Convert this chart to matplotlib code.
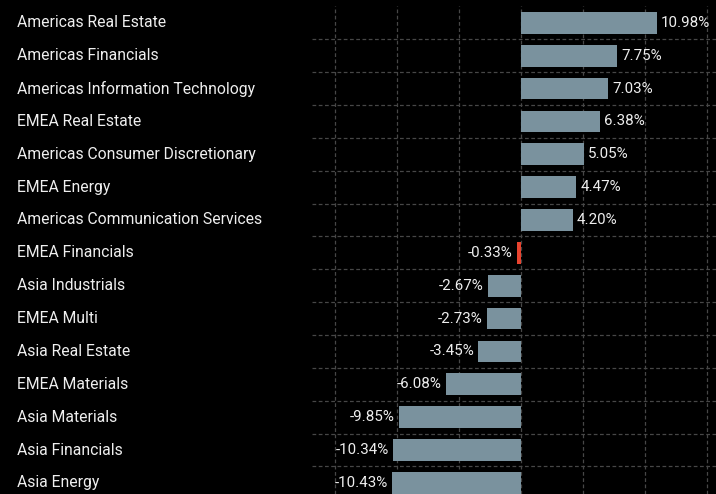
import matplotlib
matplotlib.use("Agg")
import matplotlib.pyplot as plt
from matplotlib.transforms import blended_transform_factory

categories = [
    "Americas Real Estate", "Americas Financials", "Americas Information Technology",
    "EMEA Real Estate", "Americas Consumer Discretionary", "EMEA Energy",
    "Americas Communication Services", "EMEA Financials", "Asia Industrials",
    "EMEA Multi", "Asia Real Estate", "EMEA Materials", "Asia Materials",
    "Asia Financials", "Asia Energy",
]
values = [10.98, 7.75, 7.03, 6.38, 5.05, 4.47, 4.20, -0.33, -2.67, -2.73,
          -3.45, -6.08, -9.85, -10.34, -10.43]
highlight = "EMEA Financials"

W, H = 716, 494
ROW = 32.86
TOP = 6.4
fig = plt.figure(figsize=(W / 100, H / 100), dpi=100, facecolor="black")
ax = fig.add_axes([312 / W, 0, (W - 312) / W, 1 - TOP / H])
ax.set_facecolor("black")

bar_color = "#7a929e"
red = "#e8432f"
colors = [red if c == highlight else bar_color for c in categories]
y = list(range(len(categories)))
ax.barh(y, values, height=0.66, color=colors, zorder=3)

ax.set_xlim(-16.85, 15.73)
ax.set_ylim(-0.5 + (H - TOP) / ROW, -0.5)

for xv in [-15, -10, -5, 0, 5, 10, 15]:
    ax.axvline(xv, color="#474747", lw=0.9, ls=(0, (3, 2)), zorder=1)
for yv in [i + 0.5 for i in range(len(categories) - 1)]:
    ax.axhline(yv, color="#474747", lw=0.9, ls=(0, (3, 2)), zorder=1)

for s in ax.spines.values():
    s.set_visible(False)
ax.set_xticks([])
ax.set_yticks([])

font = "Roboto"
trans = blended_transform_factory(fig.transFigure, ax.transData)
for i, (c, v) in enumerate(zip(categories, values)):
    ax.text(17 / W, i, c, transform=trans, ha="left", va="center",
            color="#eeeeee", fontsize=11.3, family=font)
    off = 0.33
    if v >= 0:
        ax.text(v + off, i, f"{v:.2f}%", ha="left", va="center",
                color="#eeeeee", fontsize=10.9, family=font, zorder=4)
    else:
        ax.text(v - off, i, f"{v:.2f}%", ha="right", va="center",
                color="#eeeeee", fontsize=10.9, family=font, zorder=4)

fig.savefig("out.png", dpi=100, facecolor="black")
